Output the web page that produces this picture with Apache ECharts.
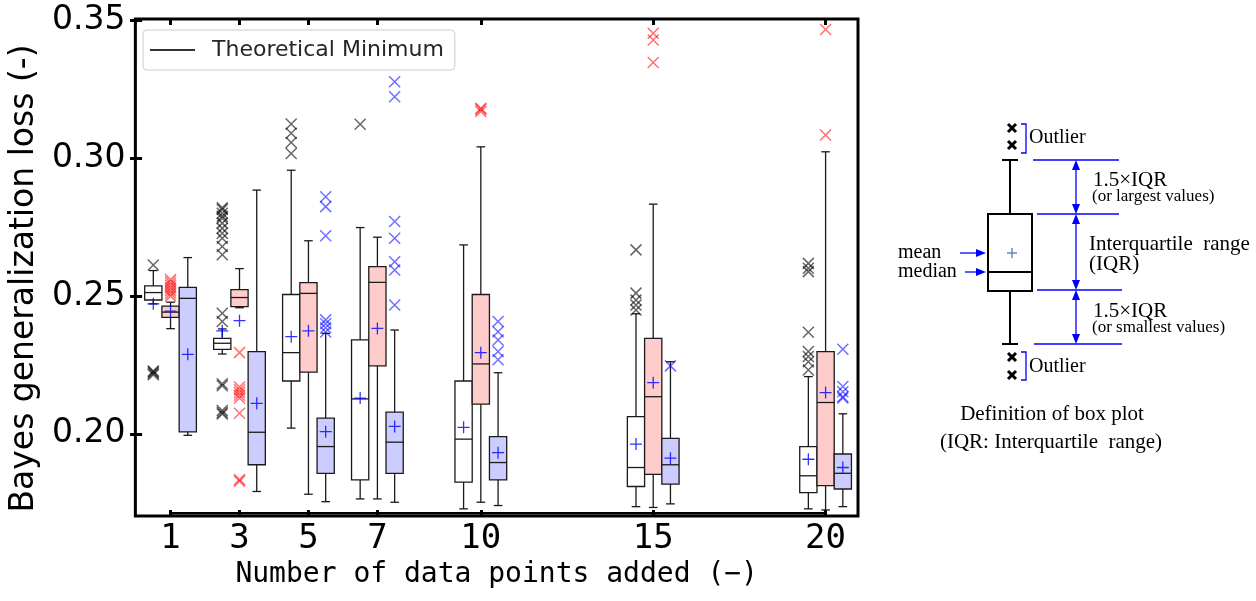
<!DOCTYPE html>
<html>
<head>
<meta charset="utf-8">
<script src="https://cdn.jsdelivr.net/npm/echarts@6/dist/echarts.min.js"></script>
<style>
  html, body { margin: 0; padding: 0; background: #fff; }
  #main { width: 1256px; height: 601px; }
</style>
</head>
<body>
<div id="main"></div>
<script>
// number of added data points (x positions of the groups)
var groups = [1, 3, 5, 7, 10, 15, 20];
var yTicks = [0.20, 0.25, 0.30, 0.35];
var theoreticalMin = 0.1712;

// [lower whisker, Q1, median, Q3, upper whisker] for each group
var whiteStats = [
  [0.2472, 0.2486, 0.2513, 0.2537, 0.2593],
  [0.2290, 0.2307, 0.2329, 0.2347, 0.2381],
  [0.2021, 0.2192, 0.2295, 0.2506, 0.2957],
  [0.1764, 0.1833, 0.2127, 0.2341, 0.2749],
  [0.1728, 0.1825, 0.1981, 0.2192, 0.2686],
  [0.1736, 0.1809, 0.1878, 0.2063, 0.2436],
  [0.1728, 0.1787, 0.1848, 0.1954, 0.2208]
];
var pinkStats = [
  [0.2382, 0.2423, 0.2442, 0.2464, 0.2478],
  [0.2458, 0.2462, 0.2495, 0.2524, 0.2600],
  [0.1781, 0.2224, 0.2510, 0.2549, 0.2701],
  [0.1764, 0.2247, 0.2550, 0.2607, 0.2714],
  [0.1752, 0.2108, 0.2254, 0.2506, 0.3042],
  [0.1733, 0.1853, 0.2135, 0.2347, 0.2834],
  [0.1724, 0.1812, 0.2114, 0.2299, 0.3024]
];
var blueStats = [
  [0.1995, 0.2007, 0.2492, 0.2532, 0.2640],
  [0.1791, 0.1888, 0.2006, 0.2299, 0.2885],
  [0.1754, 0.1857, 0.1954, 0.2057, 0.2365],
  [0.1752, 0.1857, 0.1970, 0.2079, 0.2377],
  [0.1740, 0.1833, 0.1896, 0.1990, 0.2222],
  [0.1746, 0.1818, 0.1888, 0.1984, 0.2262],
  [0.1736, 0.1800, 0.1857, 0.1927, 0.2073]
];

var whiteMeans = [0.2472, 0.2374, 0.2353, 0.2130, 0.2024, 0.1963, 0.1908];
var pinkMeans  = [0.2446, 0.2411, 0.2374, 0.2383, 0.2295, 0.2186, 0.2150];
var blueMeans  = [0.2289, 0.2111, 0.2008, 0.2027, 0.1932, 0.1912, 0.1878];

// outliers: [group, value]
var whiteOutliers = [
  [1, 0.2613], [1, 0.2215], [1, 0.2220], [1, 0.2225], [1, 0.2228],
  [3, 0.2821], [3, 0.2815], [3, 0.2801], [3, 0.2790], [3, 0.2783], [3, 0.2765],
  [3, 0.2746], [3, 0.2728], [3, 0.2710], [3, 0.2680], [3, 0.2650], [3, 0.2438],
  [3, 0.2408], [3, 0.2182], [3, 0.2175], [3, 0.2085], [3, 0.2078], [3, 0.2072],
  [5, 0.3125], [5, 0.3091], [5, 0.3058], [5, 0.3018],
  [7, 0.3124],
  [15, 0.2668], [15, 0.2511], [15, 0.2486], [15, 0.2468], [15, 0.2450],
  [20, 0.2619], [20, 0.2601], [20, 0.2589], [20, 0.2369], [20, 0.2299],
  [20, 0.2281], [20, 0.2262], [20, 0.2232]
];
var pinkOutliers = [
  [1, 0.2500], [1, 0.2510], [1, 0.2520], [1, 0.2530], [1, 0.2540], [1, 0.2550], [1, 0.2560],
  [3, 0.2295], [3, 0.2170], [3, 0.2160], [3, 0.2150], [3, 0.2140], [3, 0.2130],
  [3, 0.2075], [3, 0.1834], [3, 0.1828],
  [10, 0.3170], [10, 0.3178], [10, 0.3182],
  [15, 0.3454], [15, 0.3430], [15, 0.3348],
  [20, 0.3468], [20, 0.3085]
];
var blueOutliers = [
  [5, 0.2861], [5, 0.2825], [5, 0.2719], [5, 0.2414], [5, 0.2400], [5, 0.2385], [5, 0.2370],
  [7, 0.3278], [7, 0.3224], [7, 0.2771], [7, 0.2710], [7, 0.2625], [7, 0.2595], [7, 0.2468],
  [10, 0.2408], [10, 0.2371], [10, 0.2341], [10, 0.2299], [10, 0.2269],
  [15, 0.2247],
  [20, 0.2307], [20, 0.2172], [20, 0.2153], [20, 0.2135], [20, 0.2130]
];

var BOX_W = 0.5;
var SHIFT = 0.5;
var CROSS = 'path://M0,0L10,10M10,0L0,10';
var PLUS = 'path://M5,0L5,10M0,5L10,5';

function boxData(stats, shift) {
  return stats.map(function (s, i) { return [groups[i] + shift].concat(s); });
}
function meanData(means, shift) {
  return means.map(function (m, i) { return [groups[i] + shift, m]; });
}
function shiftPts(pts, shift) {
  return pts.map(function (p) { return [p[0] + shift, p[1]]; });
}

function renderBox(fill) {
  return function (params, api) {
    var x = api.value(0);
    var p = [1, 2, 3, 4, 5].map(function (d) { return api.coord([x, api.value(d)]); });
    var cx = p[0][0];
    var w = api.size([BOX_W, 0])[0];
    var cap = w / 2;
    var st = { stroke: '#1a1a1a', lineWidth: 1.3 };
    return {
      type: 'group',
      children: [
        { type: 'line', shape: { x1: cx, y1: p[1][1], x2: cx, y2: p[0][1] }, style: st },
        { type: 'line', shape: { x1: cx, y1: p[3][1], x2: cx, y2: p[4][1] }, style: st },
        { type: 'line', shape: { x1: cx - cap / 2, y1: p[0][1], x2: cx + cap / 2, y2: p[0][1] }, style: st },
        { type: 'line', shape: { x1: cx - cap / 2, y1: p[4][1], x2: cx + cap / 2, y2: p[4][1] }, style: st },
        { type: 'rect', shape: { x: cx - w / 2, y: p[3][1], width: w, height: p[1][1] - p[3][1] },
          style: { fill: fill, stroke: '#1a1a1a', lineWidth: 1.3 } },
        { type: 'line', shape: { x1: cx - w / 2, y1: p[2][1], x2: cx + w / 2, y2: p[2][1] }, style: st }
      ]
    };
  };
}

function boxSeries(stats, shift, fill) {
  return {
    type: 'custom', silent: true, z: 2,
    renderItem: renderBox(fill),
    encode: { x: 0, y: [1, 2, 3, 4, 5] },
    data: boxData(stats, shift)
  };
}
function crossSeries(pts, shift, color) {
  return {
    type: 'scatter', silent: true, z: 4,
    symbol: CROSS, symbolSize: 11,
    itemStyle: { color: 'transparent', borderColor: color, borderWidth: 1.5 },
    data: shiftPts(pts, shift)
  };
}
function meanSeries(means, shift) {
  return {
    type: 'scatter', silent: true, z: 5,
    symbol: PLUS, symbolSize: 12,
    itemStyle: { color: 'transparent', borderColor: '#0000ff', borderWidth: 1.3 },
    data: meanData(means, shift)
  };
}

var blue = '#0000ff';
var serif = '"Liberation Serif", "Times New Roman", serif';
function gLine(x1, y1, x2, y2, color, width) {
  return { type: 'line', shape: { x1: x1, y1: y1, x2: x2, y2: y2 },
           style: { stroke: color, lineWidth: width } };
}
function gText(x, y, text, size, align) {
  return { type: 'text', x: x, y: y,
           style: { text: text, font: size + 'px ' + serif, fill: '#000',
                    textAlign: align, align: align,
                    textVerticalAlign: 'middle', verticalAlign: 'middle' } };
}
function vArrow(x, y1, y2) {
  return [
    gLine(x, y1 + 6, x, y2 - 6, blue, 1.3),
    { type: 'polygon', shape: { points: [[x, y1], [x - 4, y1 + 10], [x + 4, y1 + 10]] }, style: { fill: blue } },
    { type: 'polygon', shape: { points: [[x, y2], [x - 4, y2 - 10], [x + 4, y2 - 10]] }, style: { fill: blue } }
  ];
}
function hArrow(x1, x2, y) {
  return [
    gLine(x1, y, x2 - 6, y, blue, 1.3),
    { type: 'polygon', shape: { points: [[x2, y], [x2 - 10, y - 4], [x2 - 10, y + 4]] }, style: { fill: blue } }
  ];
}
function boldX(x, y) {
  return [gLine(x - 4, y - 4, x + 4, y + 4, '#000', 3), gLine(x + 4, y - 4, x - 4, y + 4, '#000', 3)];
}

var diagram = [
  gLine(1010, 160, 1010, 214, '#000', 2),
  gLine(1002, 160, 1018, 160, '#000', 2),
  gLine(1010, 291, 1010, 344, '#000', 2),
  gLine(1002, 344, 1018, 344, '#000', 2),
  { type: 'rect', shape: { x: 988, y: 214, width: 44, height: 77 }, style: { fill: '#fff', stroke: '#000', lineWidth: 2 } },
  gLine(988, 272, 1032, 272, '#000', 2),
  gLine(1007, 253, 1017, 253, '#4a7ebb', 1.3),
  gLine(1012, 248, 1012, 258, '#4a7ebb', 1.3),
  { type: 'polyline', shape: { points: [[1021, 124], [1026, 124], [1026, 153], [1021, 153]] }, style: { stroke: blue, lineWidth: 1.3, fill: 'none' } },
  { type: 'polyline', shape: { points: [[1021, 352], [1026, 352], [1026, 380], [1021, 380]] }, style: { stroke: blue, lineWidth: 1.3, fill: 'none' } },
  gText(1029, 138, 'Outlier', 20, 'left'),
  gText(1029, 367, 'Outlier', 20, 'left'),
  gLine(1033, 160, 1119, 160, blue, 1.3),
  gLine(1037, 214, 1119, 214, blue, 1.3),
  gLine(1037, 290, 1122, 290, blue, 1.3),
  gLine(1034, 344, 1122, 344, blue, 1.3),
  gText(1093, 180, '1.5×IQR', 21, 'left'),
  gText(1092, 197, '(or largest values)', 17, 'left'),
  gText(1089, 244, 'Interquartile  range', 21, 'left'),
  gText(1089, 264, '(IQR)', 21, 'left'),
  gText(1093, 311, '1.5×IQR', 21, 'left'),
  gText(1092, 328, '(or smallest values)', 17, 'left'),
  gText(898, 253, 'mean', 20, 'left'),
  gText(898, 272, 'median', 20, 'left'),
  gText(1052, 414, 'Definition of box plot', 21, 'center'),
  gText(1051, 442, '(IQR: Interquartile  range)', 21, 'center')
].concat(boldX(1012, 128), boldX(1012, 145), boldX(1012, 357), boldX(1012, 375),
         vArrow(1076, 160, 214), vArrow(1076, 214, 290), vArrow(1076, 290, 344),
         hArrow(960, 986, 253), hArrow(965, 986, 272));

var xMin = -0.02, xMax = 20.94, yMin = 0.1702, yMax = 0.3506;
var tickStyle = { show: true, inside: true, length: 6, lineStyle: { color: '#000', width: 3 } };

var myChart = echarts.init(document.getElementById('main'));
var option = {
  animation: false,
  backgroundColor: '#fff',
  grid: { left: 130, right: 398, top: 19, bottom: 85, show: true, borderColor: '#000', borderWidth: 3 },
  legend: {
    data: [{ name: 'Theoretical Minimum', icon: 'rect' }],
    left: 143, top: 30,
    padding: [9, 11, 9, 7],
    itemWidth: 45, itemHeight: 2,
    itemStyle: { color: '#333' },
    borderColor: '#cccccc', borderWidth: 1, borderRadius: 4,
    backgroundColor: 'rgba(255,255,255,0.8)',
    textStyle: { fontSize: 22, fontFamily: 'DejaVu Sans', color: '#262626', padding: [0, 0, 0, 12] }
  },
  xAxis: [
    {
      type: 'value', min: xMin, max: xMax, position: 'bottom',
      axisLine: { show: false }, splitLine: { show: false },
      axisTick: Object.assign({ customValues: groups }, tickStyle),
      axisLabel: { customValues: groups, fontFamily: 'DejaVu Sans Mono', fontSize: 34, color: '#000', margin: 6 },
      name: 'Number of data points added (−)', nameLocation: 'middle', nameGap: 45,
      nameTextStyle: { fontFamily: 'DejaVu Sans Mono', fontSize: 28, color: '#000' }
    },
    {
      type: 'value', min: xMin, max: xMax, position: 'top',
      axisLine: { show: false }, splitLine: { show: false },
      axisTick: Object.assign({ customValues: groups }, tickStyle),
      axisLabel: { show: false }
    }
  ],
  yAxis: [
    {
      type: 'value', min: yMin, max: yMax, position: 'left',
      axisLine: { show: false }, splitLine: { show: false },
      axisTick: Object.assign({ customValues: yTicks }, tickStyle),
      axisLabel: { customValues: yTicks, fontFamily: 'DejaVu Sans', fontSize: 33, color: '#000', margin: 10,
                   formatter: function (v) { return v.toFixed(2); } },
      name: 'Bayes generalization loss (-)', nameLocation: 'middle', nameGap: 92,
      nameTextStyle: { fontFamily: 'DejaVu Sans', fontSize: 33, color: '#000', padding: [0, 22, 0, 0] }
    },
    {
      type: 'value', min: yMin, max: yMax, position: 'right',
      axisLine: { show: false }, splitLine: { show: false },
      axisTick: Object.assign({ customValues: yTicks }, tickStyle),
      axisLabel: { show: false }
    }
  ],
  series: [
    {
      name: 'Theoretical Minimum', type: 'line', symbol: 'none', silent: true, z: 3,
      lineStyle: { color: '#000', width: 2.5 }, itemStyle: { color: '#222' },
      data: [[groups[0], theoreticalMin], [groups[groups.length - 1], theoreticalMin]]
    },
    boxSeries(whiteStats, -SHIFT, '#ffffff'),
    boxSeries(pinkStats, 0, '#ffcccc'),
    boxSeries(blueStats, SHIFT, '#ccccff'),
    crossSeries(whiteOutliers, -SHIFT, 'rgba(0,0,0,0.75)'),
    crossSeries(pinkOutliers, 0, 'rgba(255,0,0,0.7)'),
    crossSeries(blueOutliers, SHIFT, 'rgba(0,0,255,0.7)'),
    meanSeries(whiteMeans, -SHIFT),
    meanSeries(pinkMeans, 0),
    meanSeries(blueMeans, SHIFT)
  ],
  graphic: diagram
};
myChart.setOption(option);
</script>
</body>
</html>
